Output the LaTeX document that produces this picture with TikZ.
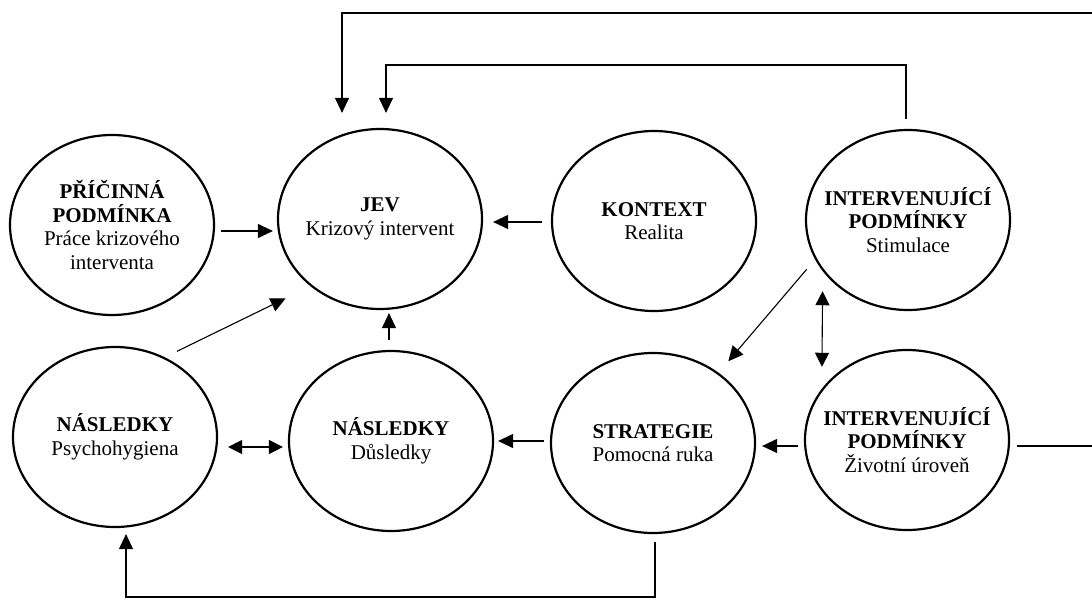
\documentclass[tikz,border=0pt]{standalone}
\usepackage{fontspec}
\setmainfont{Liberation Serif}
\usetikzlibrary{shapes.geometric,arrows.meta}

\begin{document}
\begin{tikzpicture}[x=1pt,y=-1pt,
  bubble/.style={ellipse,draw,line width=2.2pt,minimum width=204pt,minimum height=180pt,inner sep=0pt},
  txt/.style={align=center,font=\fontsize{21}{23.5}\selectfont},
  arr/.style={-{Triangle[length=15pt,width=14pt]},line width=1.1pt},
  arr2/.style={{Triangle[length=14pt,width=14pt]}-{Triangle[length=14pt,width=14pt]},line width=1.1pt}]
\fill[white] (0,0) rectangle (1092,599);
\useasboundingbox (0,0) rectangle (1092,599);
% bubbles
\foreach \n/\x/\y/\t in {pric/112/225/{\textbf{PŘÍČINNÁ}\\\textbf{PODMÍNKA}\\Práce krizového\\interventa},
    jev/380/219/{\textbf{JEV}\\Krizový intervent},
    kont/654/221/{\textbf{KONTEXT}\\Realita},
    intA/908/220/{\textbf{INTERVENUJÍCÍ}\\\textbf{PODMÍNKY}\\Stimulace},
    psych/115/437/{\textbf{NÁSLEDKY}\\Psychohygiena},
    dusl/391/441/{\textbf{NÁSLEDKY}\\Důsledky},
    strat/653/443/{\textbf{STRATEGIE}\\Pomocná ruka},
    intB/907/440/{\textbf{INTERVENUJÍCÍ}\\\textbf{PODMÍNKY}\\Životní úroveň}}
  {\node[bubble] (\n) at (\x,\y) {};
   \node[txt] (\n-t) at (\n) {\t};}
% short arrows
\draw[arr,shorten <=6pt,shorten >=4pt] ([yshift=-6pt]pric.east) -- ([yshift=-12pt]jev.west);
\draw[arr,shorten <=9pt,shorten >=10pt] ([yshift=-1pt]kont.west) -- ([yshift=-3pt]jev.east);
\draw[arr,shorten <=13.5pt,shorten >=27.5pt] (psych.58) -- (jev.224);
\draw[arr,shorten <=10pt,shorten >=3pt] ([xshift=-2pt]dusl.north) -- ([xshift=9pt]jev.south);
\draw[arr2,shorten <=10pt,shorten >=5pt] ([yshift=-10pt]psych.east) -- ([yshift=-6pt]dusl.west);
\draw[arr,shorten <=6pt,shorten >=6pt] ([yshift=-6pt]intB.west) -- ([yshift=-3pt]strat.east);
\draw[arr,shorten <=6pt,shorten >=4pt] ([yshift=2pt]strat.west) -- (dusl.east);
\draw[arr,shorten <=13pt,shorten >=15pt] (intA.203) -- (strat.47);
\draw[arr2,shorten <=20pt,shorten >=22pt] (intA.211) -- (intB.149);
% feedback loops
\coordinate (rim) at (1100,13);
\coordinate (top) at (906,65);
\coordinate (floor) at (655,597);
\coordinate (jevL) at ([xshift=-38pt,yshift=15pt]jev.north);
\coordinate (jevR) at ([xshift=6pt,yshift=15pt]jev.north);
\coordinate (psychB) at ([shift={(11pt,-6pt)}]psych.south);
\draw[arr] ([shift={(7pt,-6pt)}]intB.east) -| (rim) -| (jevL);
\draw[arr] ([shift={(-2pt,10pt)}]intA.north) -- (top) -| (jevR);
\draw[arr] ([shift={(2pt,-8pt)}]strat.south) -- (floor) -| (psychB);
\end{tikzpicture}
\end{document}
